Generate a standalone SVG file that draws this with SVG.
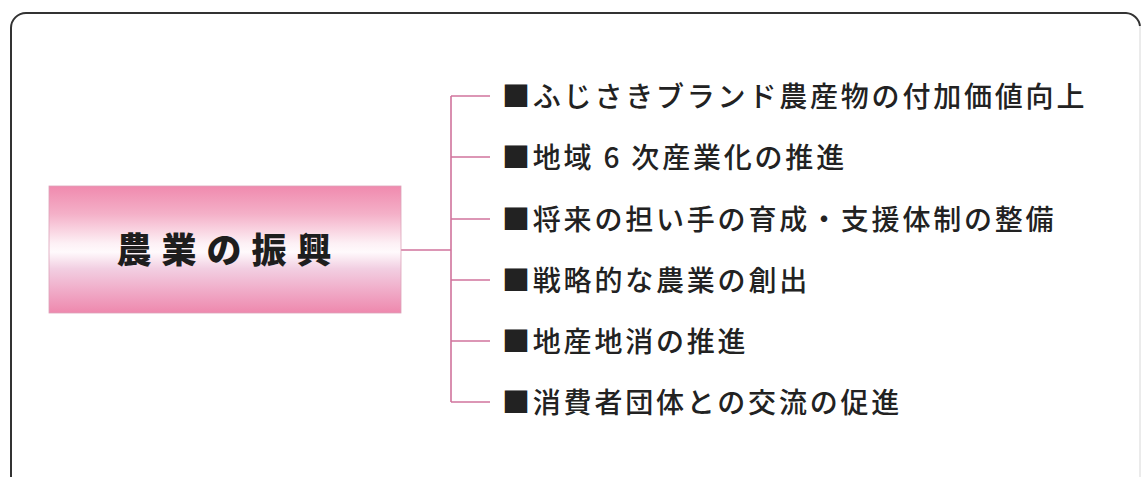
<svg xmlns="http://www.w3.org/2000/svg" width="1144" height="477" viewBox="0 0 1144 477">
  <defs>
    <linearGradient id="boxGrad" x1="0" y1="0" x2="0" y2="1">
      <stop offset="0" stop-color="#f08aae"/>
      <stop offset="0.22" stop-color="#f4b0c8"/>
      <stop offset="0.45" stop-color="#fdf0f5"/>
      <stop offset="0.52" stop-color="#fffafc"/>
      <stop offset="0.65" stop-color="#f2cfe2"/>
      <stop offset="0.85" stop-color="#f0a6c4"/>
      <stop offset="1" stop-color="#ee88ad"/>
    </linearGradient>
    <style>
      .item { font-family: "Noto Sans CJK JP", "Noto Sans CJK SC", sans-serif; font-size: 28px; font-weight: 500; fill: #222; letter-spacing: 2.8px; }
      .title { font-family: "Noto Sans CJK JP", "Noto Sans CJK SC", sans-serif; font-size: 35px; font-weight: 900; fill: #1e1e1e; letter-spacing: 10px; }
      .conn { stroke: #d0739c; stroke-width: 1.6; fill: none; }
    </style>
  </defs>
  <rect width="1144" height="477" fill="#ffffff"/>
  <g id="frame">
    <path d="M11,477 V28 A15,15 0 0 1 26,13 H1126 A15,15 0 0 1 1140,26" fill="none" stroke="#333" stroke-width="2"/>
    <path d="M1140,26 V477" fill="none" stroke="#e4e4e4" stroke-width="1.5"/>
  </g>
  <g id="connectors">
    <path class="conn" d="M401,250 H451"/>
    <path class="conn" d="M451,96 V402"/>
    <path class="conn" d="M451,96 H490"/>
    <path class="conn" d="M451,157 H490"/>
    <path class="conn" d="M451,219 H490"/>
    <path class="conn" d="M451,280 H490"/>
    <path class="conn" d="M451,341 H490"/>
    <path class="conn" d="M451,402 H490"/>
  </g>
  <g id="main">
    <rect x="49" y="186" width="352" height="127" fill="url(#boxGrad)" stroke="#dca3ba" stroke-width="0.8"/>
    <text class="title" x="229" y="263" text-anchor="middle">農業の振興</text>
  </g>
  <g id="item1"><text class="item" x="502" y="106.5">■ふじさきブランド農産物の付加価値向上</text></g>
  <g id="item2"><text class="item" x="502" y="167.5">■地域 6 次産業化の推進</text></g>
  <g id="item3"><text class="item" x="502" y="229.5">■将来の担い手の育成・支援体制の整備</text></g>
  <g id="item4"><text class="item" x="502" y="290.5">■戦略的な農業の創出</text></g>
  <g id="item5"><text class="item" x="502" y="351.5">■地産地消の推進</text></g>
  <g id="item6"><text class="item" x="502" y="412.5">■消費者団体との交流の促進</text></g>
</svg>
